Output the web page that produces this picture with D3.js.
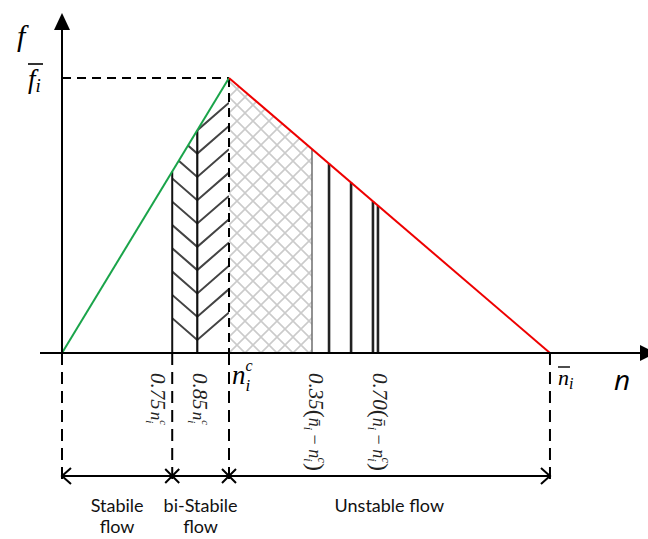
<!DOCTYPE html>
<html>
<head>
<meta charset="utf-8">
<script src="https://cdn.jsdelivr.net/npm/d3@7"></script>
<style>
  body { margin: 0; background: #fff; }
  svg { display: block; }
</style>
</head>
<body>
<script>
// density n is in units of n_i^c, flow f in units of f̄_i (schematic)
var critical = 1;            // n_i^c
var jam = 2.922;             // n̄_i
var stableEnd = 0.66;        // "0.75 n_i^c" boundary
var biStableEnd = 0.81;      // "0.85 n_i^c" line
var crossEnd = 1.497;        // "0.35(n̄_i - n_i^c)" boundary
var stripeLines = [1.599, 1.731, 1.862, 1.892];
var zoneBreaks = [0, stableEnd, critical, jam];
var zoneNames = [["Stabile", "flow"], ["bi-Stabile", "flow"], ["Unstable flow"]];
var zoneCenters = [0.33, 0.83, 1.96];
var coefLabels = ["0.75", "0.85", "0.35", "0.70"];
var coefPos = [0.57, 0.82, 1.515, 1.9];

var width = 648, height = 539;
var x = d3.scaleLinear().domain([0, 1]).range([62, 229]);
var y = d3.scaleLinear().domain([0, 1]).range([353, 78]);

// triangular fundamental diagram
function flow(n) {
  return n <= critical ? n / critical : (jam - n) / (jam - critical);
}

var svg = d3.select("body").append("svg")
  .attr("width", width).attr("height", height);

var defs = svg.append("defs");

// light crosshatch for the unstable part
var cross = defs.append("pattern")
  .attr("id", "cross").attr("patternUnits", "userSpaceOnUse")
  .attr("x", x(critical)).attr("y", y(0))
  .attr("width", 16).attr("height", 16);
cross.append("path").attr("d", "M0,0L16,16M16,0L0,16M-2,14L2,18M14,-2L18,2")
  .attr("stroke", "#cbcbcb").attr("stroke-width", 1.6).attr("fill", "none");

var area = d3.area().x(d => x(d)).y0(y(0)).y1(d => y(flow(d)));

// chevron hatch between 0.75 and n_i^c
var chevClip = defs.append("clipPath").attr("id", "chevClip");
chevClip.append("path").attr("d", area([stableEnd, critical]));
var chev = svg.append("g").attr("clip-path", "url(#chevClip)");
var xa = x(stableEnd), xb = x(biStableEnd), xc = x(critical);
for (var yy = 340; yy > 40; yy -= 23.3) {
  chev.append("path")
    .attr("d", "M" + xa + "," + (yy - (xb - xa) * 0.87) + "L" + xb + "," + yy +
      "L" + xc + "," + (yy - (xc - xb) * 0.87))
    .attr("fill", "none").attr("stroke", "#444").attr("stroke-width", 2);
}

// crosshatch area
svg.append("path").attr("d", area([critical, crossEnd])).attr("fill", "url(#cross)");

// vertical lines
svg.append("line")
  .attr("x1", x(stableEnd)).attr("x2", x(stableEnd))
  .attr("y1", y(0)).attr("y2", y(flow(stableEnd)))
  .attr("stroke", "#111").attr("stroke-width", 2);
svg.append("line")
  .attr("x1", x(biStableEnd)).attr("x2", x(biStableEnd))
  .attr("y1", y(0)).attr("y2", y(flow(biStableEnd)))
  .attr("stroke", "#111").attr("stroke-width", 2.2);
svg.append("line")
  .attr("x1", x(crossEnd)).attr("x2", x(crossEnd))
  .attr("y1", y(0)).attr("y2", y(flow(crossEnd)))
  .attr("stroke", "#777").attr("stroke-width", 1.6);
svg.selectAll(".stripe").data(stripeLines).enter().append("line")
  .attr("x1", d => x(d)).attr("x2", d => x(d))
  .attr("y1", y(0)).attr("y2", d => y(flow(d)))
  .attr("stroke", "#222").attr("stroke-width", 2.6);

// dashed guides
var dash = "9,6";
svg.append("line")
  .attr("x1", x(0)).attr("x2", x(critical)).attr("y1", y(1)).attr("y2", y(1))
  .attr("stroke", "#000").attr("stroke-width", 2).attr("stroke-dasharray", dash);
svg.append("line")
  .attr("x1", x(critical)).attr("x2", x(critical)).attr("y1", y(1)).attr("y2", y(0))
  .attr("stroke", "#000").attr("stroke-width", 2).attr("stroke-dasharray", dash);

var dimY = 476;
svg.selectAll(".guide").data(zoneBreaks).enter().append("line")
  .attr("x1", d => x(d)).attr("x2", d => x(d))
  .attr("y1", y(0)).attr("y2", 486)
  .attr("stroke", "#000").attr("stroke-width", 2).attr("stroke-dasharray", "12,7");

// the two branches
svg.append("line")
  .attr("x1", x(0)).attr("y1", y(0)).attr("x2", x(critical)).attr("y2", y(1))
  .attr("stroke", "#1aa44a").attr("stroke-width", 2);
svg.append("line")
  .attr("x1", x(critical)).attr("y1", y(1)).attr("x2", x(jam)).attr("y2", y(0))
  .attr("stroke", "#ee0000").attr("stroke-width", 2);

// axes with arrow heads
svg.append("line").attr("x1", 40).attr("x2", 642).attr("y1", y(0)).attr("y2", y(0))
  .attr("stroke", "#000").attr("stroke-width", 2);
svg.append("path").attr("d", "M640," + (y(0) - 8) + "L656," + y(0) + "L640," + (y(0) + 8) + "Z");
svg.append("line").attr("x1", x(0)).attr("x2", x(0)).attr("y1", y(0)).attr("y2", 28)
  .attr("stroke", "#000").attr("stroke-width", 2);
svg.append("path").attr("d", "M" + (x(0) - 8) + ",30L" + x(0) + ",13L" + (x(0) + 8) + ",30Z");

// dimension line
svg.append("line").attr("x1", x(0)).attr("x2", x(jam)).attr("y1", dimY).attr("y2", dimY)
  .attr("stroke", "#000").attr("stroke-width", 2);
svg.append("path")
  .attr("d", "M" + (x(0) + 9) + "," + (dimY - 8) + "L" + x(0) + "," + dimY + "L" + (x(0) + 9) + "," + (dimY + 8) +
    "M" + (x(jam) - 9) + "," + (dimY - 8) + "L" + x(jam) + "," + dimY + "L" + (x(jam) - 9) + "," + (dimY + 8))
  .attr("fill", "none").attr("stroke", "#000").attr("stroke-width", 2);
svg.selectAll(".xmark").data([stableEnd, critical]).enter().append("path")
  .attr("d", d => "M" + (x(d) - 7) + "," + (dimY - 7) + "L" + (x(d) + 7) + "," + (dimY + 7) +
    "M" + (x(d) + 7) + "," + (dimY - 7) + "L" + (x(d) - 7) + "," + (dimY + 7))
  .attr("stroke", "#000").attr("stroke-width", 2);

// math labels
var serif = "'Liberation Serif', 'DejaVu Serif', serif";
svg.append("text").attr("x", 17).attr("y", 46)
  .attr("font-family", serif).attr("font-style", "italic").attr("font-size", 30).text("f");
var fb = svg.append("text").attr("x", 28).attr("y", 88)
  .attr("font-family", serif).attr("font-style", "italic").attr("font-size", 27);
fb.append("tspan").text("f");
fb.append("tspan").attr("font-size", 19).attr("dy", 4).text("i");
svg.append("line").attr("x1", 28).attr("x2", 43).attr("y1", 64).attr("y2", 64)
  .attr("stroke", "#000").attr("stroke-width", 1.6);

var nc = svg.append("text").attr("x", x(critical) + 3).attr("y", 384)
  .attr("font-family", serif).attr("font-style", "italic").attr("font-size", 27);
nc.append("tspan").text("n");
nc.append("tspan").attr("font-size", 16).attr("dy", -13).text("c");
nc.append("tspan").attr("font-size", 17).attr("dx", -7).attr("dy", 20).text("i");

var nb = svg.append("text").attr("x", x(jam) + 8).attr("y", 385)
  .attr("font-family", serif).attr("font-style", "italic").attr("font-size", 22);
nb.append("tspan").text("n");
nb.append("tspan").attr("font-size", 16).attr("dy", 4).text("i");
svg.append("line").attr("x1", x(jam) + 8).attr("x2", x(jam) + 20).attr("y1", 367).attr("y2", 367)
  .attr("stroke", "#000").attr("stroke-width", 1.4);

svg.append("text").attr("x", 614).attr("y", 390)
  .attr("font-family", "'Open Sans', sans-serif").attr("font-style", "italic").attr("font-size", 28).text("n");

// rotated coefficient labels
coefLabels.forEach(function(lab, k) {
  var t = svg.append("text")
    .attr("transform", "translate(" + (x(coefPos[k]) - 6) + ",373) rotate(90)")
    .attr("font-family", serif).attr("font-style", "italic").attr("font-size", 21)
    .attr("fill", "#222");
  t.append("tspan").text(lab);
  if (k < 2) {
    t.append("tspan").attr("font-size", 17).attr("dx", 2).text("n");
    t.append("tspan").attr("font-size", 11).attr("dy", 5).text("i");
    t.append("tspan").attr("font-size", 11).attr("dx", -3).attr("dy", -14).text("c");
  } else {
    t.append("tspan").attr("font-style", "normal").attr("font-size", 24).attr("dy", 1).text("(");
    t.append("tspan").attr("font-size", 18).attr("dy", -1).text("n\u0304");
    t.append("tspan").attr("font-size", 12).attr("dy", 5).text("i");
    t.append("tspan").attr("font-style", "normal").attr("font-size", 18).attr("dy", -5).text(" \u2212 ");
    t.append("tspan").attr("font-size", 18).text("n");
    t.append("tspan").attr("font-size", 12).attr("dy", 5).text("i");
    t.append("tspan").attr("font-size", 12).attr("dx", -4).attr("dy", -14).text("c");
    t.append("tspan").attr("font-style", "normal").attr("font-size", 24).attr("dy", 10).text(")");
  }
});

// zone names
zoneNames.forEach(function(lines, k) {
  var t = svg.append("text")
    .attr("text-anchor", "middle")
    .attr("font-family", "Lato, 'Open Sans', sans-serif").attr("font-size", 18)
    .attr("fill", "#111");
  lines.forEach(function(s, j) {
    t.append("tspan").attr("x", x(zoneCenters[k])).attr("y", 512 + j * 21).text(s);
  });
});
</script>
</body>
</html>
